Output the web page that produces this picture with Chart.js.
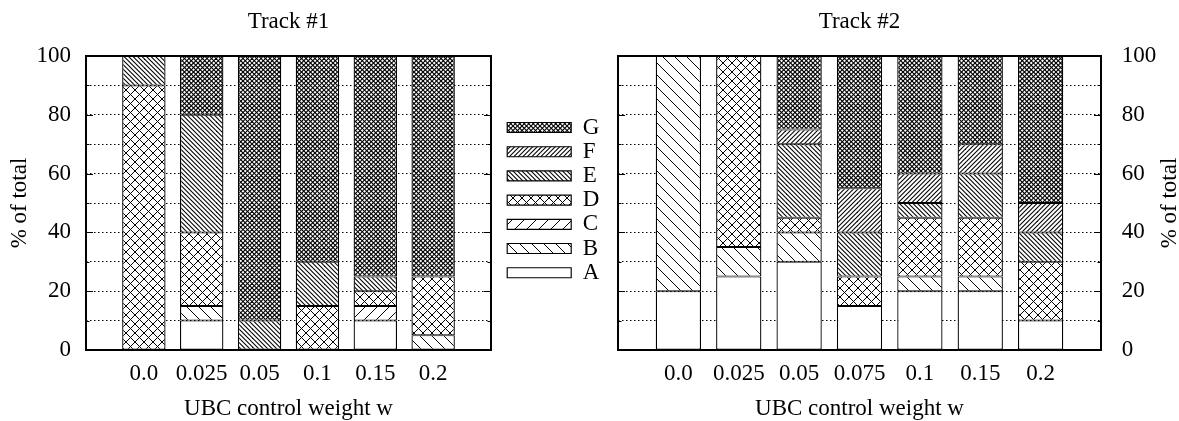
<!DOCTYPE html>
<html>
<head>
<meta charset="utf-8">
<script src="https://cdn.jsdelivr.net/npm/chart.js@4.4.1/dist/chart.umd.min.js"></script>
<style>
html, body { margin: 0; padding: 0; background: #fff; }
#wrap { position: relative; width: 1179px; height: 421px; }
canvas { position: absolute; top: 0; }
</style>
</head>
<body>
<div id="wrap">
  <canvas id="track1" width="606" height="421" style="left:0"></canvas>
  <canvas id="track2" width="573" height="421" style="left:606px"></canvas>
</div>
<script>
const parts = ['A', 'B', 'C', 'D', 'E', 'F', 'G'];
const weights1 = ['0.0', '0.025', '0.05', '0.1', '0.15', '0.2'];
const weights2 = ['0.0', '0.025', '0.05', '0.075', '0.1', '0.15', '0.2'];
const yLabels = [0, 20, 40, 60, 80, 100];

// Track #1, % of total
const t1A = [0, 10, 0, 0, 10, 0];
const t1B = [0, 5, 0, 0, 0, 5];
const t1C = [0, 0, 0, 0, 5, 0];
const t1D = [90, 25, 0, 15, 5, 20];
const t1E = [10, 40, 10, 15, 5, 0];
const t1F = [0, 0, 0, 0, 0, 0];
const t1G = [0, 20, 90, 70, 75, 75];

// Track #2, % of total
const t2A = [20, 25, 30, 15, 20, 20, 10];
const t2B = [80, 10, 10, 0, 5, 5, 0];
const t2C = [0, 0, 0, 0, 0, 0, 0];
const t2D = [0, 65, 5, 10, 20, 20, 20];
const t2E = [0, 0, 25, 15, 5, 15, 10];
const t2F = [0, 0, 5, 15, 10, 10, 10];
const t2G = [0, 0, 25, 45, 40, 30, 50];

Chart.defaults.font.family = "'Liberation Serif', 'Times New Roman', serif";
Chart.defaults.font.size = 23;
Chart.defaults.color = '#000';

// gnuplot-like fill patterns
function hatch(dirs, step, lw) {
    const s = 36;
    const c = document.createElement('canvas');
    c.width = c.height = s;
    const g = c.getContext('2d');
    g.fillStyle = '#fff';
    g.fillRect(0, 0, s, s);
    g.strokeStyle = '#000';
    g.lineWidth = lw;
    for (const d of dirs) {
        for (let o = -s; o <= s; o += step) {
            g.beginPath();
            if (d === '\\') {
                g.moveTo(o - 1, -1);
                g.lineTo(o + s + 1, s + 1);
            } else {
                g.moveTo(o - 1, s + 1);
                g.lineTo(o + s + 1, -1);
            }
            g.stroke();
        }
    }
    return g.createPattern(c, 'repeat');
}

const fills = [
    '#fff',
    hatch(['\\'], 12, 1),
    hatch(['/'], 12, 1),
    hatch(['\\', '/'], 9, 1),
    hatch(['\\'], 4.5, 1.1),
    hatch(['/'], 4.5, 1.1),
    hatch(['\\', '/'], 4.5, 1.15)
];

function makeDatasets(series) {
    return series.map((vals, i) => ({
        label: parts[i],
        // empty parts are left out so they leave no outline
        data: [null, ...vals.map(v => v || null), null],
        backgroundColor: fills[i],
        borderColor: '#000',
        borderWidth: { left: 1.3, right: 1.3, top: 1, bottom: 1 },
        borderSkipped: false,
        barPercentage: 0.75,
        categoryPercentage: 1
    }));
}

const frame = {
    id: 'frame',
    afterDatasetsDraw(chart) {
        const { ctx, chartArea: a } = chart;
        const y = chart.scales.y;
        ctx.save();
        ctx.strokeStyle = '#000';
        ctx.lineWidth = 1;
        y.ticks.forEach(t => {
            if (t.value <= 0 || t.value >= 100) return;
            const py = Math.round(y.getPixelForValue(t.value)) + 0.5;
            const len = yLabels.includes(t.value) ? 7 : 3.5;
            ctx.beginPath();
            ctx.moveTo(a.left, py);
            ctx.lineTo(a.left + len, py);
            ctx.moveTo(a.right, py);
            ctx.lineTo(a.right - len, py);
            ctx.stroke();
        });
        ctx.lineWidth = 2;
        ctx.strokeRect(a.left, a.top, a.right - a.left, a.bottom - a.top);
        ctx.restore();
    }
};

// gnuplot keeps the y2 label reading bottom-to-top
const rightTitle = {
    id: 'rightTitle',
    afterDraw(chart) {
        const { ctx, chartArea: a } = chart;
        ctx.save();
        ctx.translate(a.right + 69, (a.top + a.bottom) / 2);
        ctx.rotate(-Math.PI / 2);
        ctx.font = "23px 'Liberation Serif', serif";
        ctx.fillStyle = '#000';
        ctx.textAlign = 'center';
        ctx.textBaseline = 'middle';
        ctx.fillText('% of total', 0, 0);
        ctx.restore();
    }
};

function yScale(pos, pad) {
    return {
        type: 'linear',
        position: pos,
        stacked: true,
        min: 0,
        max: 100,
        ticks: {
            stepSize: 10,
            maxTicksLimit: 11,
            autoSkip: false,
            padding: pad,
            callback: v => yLabels.includes(v) ? v : ''
        },
        grid: { color: '#000', lineWidth: 1, drawTicks: false },
        border: { display: false, dash: [1.5, 2.5] }
    };
}

function xScale(cats) {
    return {
        type: 'category',
        labels: ['', ...cats, ''],
        offset: false,
        stacked: true,
        grid: { display: false, drawTicks: false },
        border: { display: false },
        ticks: { autoSkip: false, maxRotation: 0, padding: 10.2 },
        title: { display: true, text: 'UBC control weight w', padding: { top: -2.6, bottom: -2 } }
    };
}

function titleOpts(text) {
    return {
        display: true,
        text: text,
        fullSize: false,
        color: '#000',
        font: { size: 23, weight: 'normal' },
        padding: { top: 8.2, bottom: 20.2 }
    };
}

const y1 = yScale('left', 15);
y1.title = { display: true, text: '% of total', padding: { top: 6.2, bottom: -12.3 } };

new Chart(document.getElementById('track1'), {
    type: 'bar',
    data: {
        labels: ['', ...weights1, ''],
        datasets: makeDatasets([t1A, t1B, t1C, t1D, t1E, t1F, t1G])
    },
    options: {
        responsive: false,
        animation: false,
        events: [],
        layout: { padding: 0 },
        scales: {
            x: xScale(weights1),
            y: y1,
            gap: {
                type: 'linear',
                position: 'right',
                grid: { display: false, drawTicks: false },
                border: { display: false },
                ticks: { display: false },
                afterFit: s => { s.width = 15; }
            }
        },
        plugins: {
            title: titleOpts('Track #1'),
            tooltip: { enabled: false },
            legend: {
                position: 'right',
                align: 'start',
                fullSize: false,
                reverse: true,
                maxWidth: 100,
                title: { display: true, text: '', font: { size: 10, lineHeight: 1 }, padding: { top: 48.8, bottom: 0 } },
                labels: { boxWidth: 64, boxHeight: 10, padding: 1.2, color: '#000', font: { size: 23 } }
            }
        }
    },
    plugins: [frame]
});

new Chart(document.getElementById('track2'), {
    type: 'bar',
    data: {
        labels: ['', ...weights2, ''],
        datasets: makeDatasets([t2A, t2B, t2C, t2D, t2E, t2F, t2G])
    },
    options: {
        responsive: false,
        animation: false,
        events: [],
        layout: { padding: { left: 12, right: 2.1, top: 0, bottom: 0 } },
        scales: {
            x: xScale(weights2),
            y: yScale('right', 20.7)
        },
        plugins: {
            title: titleOpts('Track #2'),
            tooltip: { enabled: false },
            legend: { display: false }
        }
    },
    plugins: [frame, rightTitle]
});
</script>
</body>
</html>
